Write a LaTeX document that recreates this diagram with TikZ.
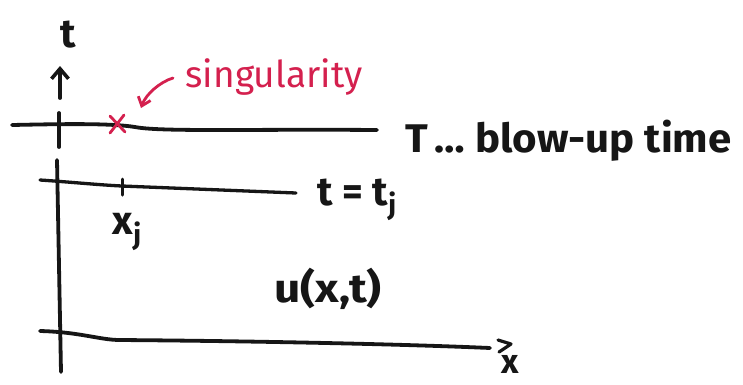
\documentclass[tikz,border=0pt]{standalone}
\usepackage{fontspec}
\setmainfont{Fira Sans}
\usetikzlibrary{arrows.meta}
\definecolor{ink}{RGB}{22,22,22}
\definecolor{redink}{RGB}{212,32,78}
\tikzset{
  pen/.style={draw=ink, line width=3.8pt, line cap=round, line join=round},
  redpen/.style={draw=redink, line width=2.8pt, line cap=round, line join=round},
  lbl/.style={text=ink, inner sep=0pt, font=\fontsize{40}{46}\selectfont\bfseries},
  redlbl/.style={text=redink, inner sep=0pt, font=\fontsize{37}{44}\selectfont},
}
\newcommand{\sbj}{\raisebox{-0.45ex}{\fontsize{28}{32}\selectfont j}}
\begin{document}
\begin{tikzpicture}[x=1pt,y=-1pt]
\useasboundingbox (0,0) rectangle (743,384);
\fill[white] (0,0) rectangle (743,384);

% coordinates
\coordinate (aBot) at (60,98);
\coordinate (aTop) at (60,66);
\coordinate (vA1) at (59,113);
\coordinate (vA2) at (59,147);
\coordinate (vB1) at (57,160);
\coordinate (vB2) at (61,372);
\coordinate (TL) at (12,125);
\coordinate (TM) at (135,127);
\coordinate (TR) at (377,130);
\coordinate (jL) at (40,180);
\coordinate (jM) at (122,186);
\coordinate (jR) at (296,193);
\coordinate (xL) at (40,331);
\coordinate (xM) at (120,340);
\coordinate (xR) at (490,348);
\coordinate (arrS) at (173,78);
\coordinate (arrE) at (141,108);

% t axis (hand-drawn, broken)
\draw[pen, -{Straight Barb[length=10pt,width=17pt,line width=3.6pt]}] (aBot) -- (aTop);
\draw[pen] (vA1) -- (vA2);
\draw[pen] (vB1) -- (vB2);

% T line
\draw[pen] (TL) .. controls (60,124) and (110,123) .. (TM)
  .. controls (160,132) and (250,129) .. (TR);

% t = t_j line with tick
\draw[pen, line width=3.3pt] (jL) .. controls (70,182) and (100,185) .. (jM) -- (jR);
\draw[pen, line width=3pt] (122,179) -- (122,195);

% x axis
\draw[pen] (xL) .. controls (80,332) and (100,340) .. (xM)
  .. controls (250,341) and (400,344) .. (xR);
\draw[pen, line width=3.2pt] (498,340) -- (511,344) -- (499,352);

% singularity mark and arrow
\draw[redpen] (110,116) -- (125,132);
\draw[redpen] (124,115) -- (110,133);
\draw[redpen, -{Straight Barb[length=8pt,width=13pt,line width=2.8pt]}]
  (arrS) .. controls (160,82) and (146,94) .. (arrE);

% labels
\node[lbl] (tlab) at (68,35) {t};
\node[redlbl] (singlab) at (274,77) {singularity};
\node[lbl, anchor=base west, xscale=1.05] (Tlab) at (405,152) {T\,… blow-up time};
\node[lbl] (tjlab) at (357,200) {t = t\sbj};
\node[lbl] (xjlab) at (127,232) {x\sbj};
\node[lbl, xscale=1.15] (ulab) at (328,289) {u(x,t)};
\node[lbl, font=\fontsize{34}{40}\selectfont\bfseries] (xlab) at (510,364) {x};
\end{tikzpicture}
\end{document}
